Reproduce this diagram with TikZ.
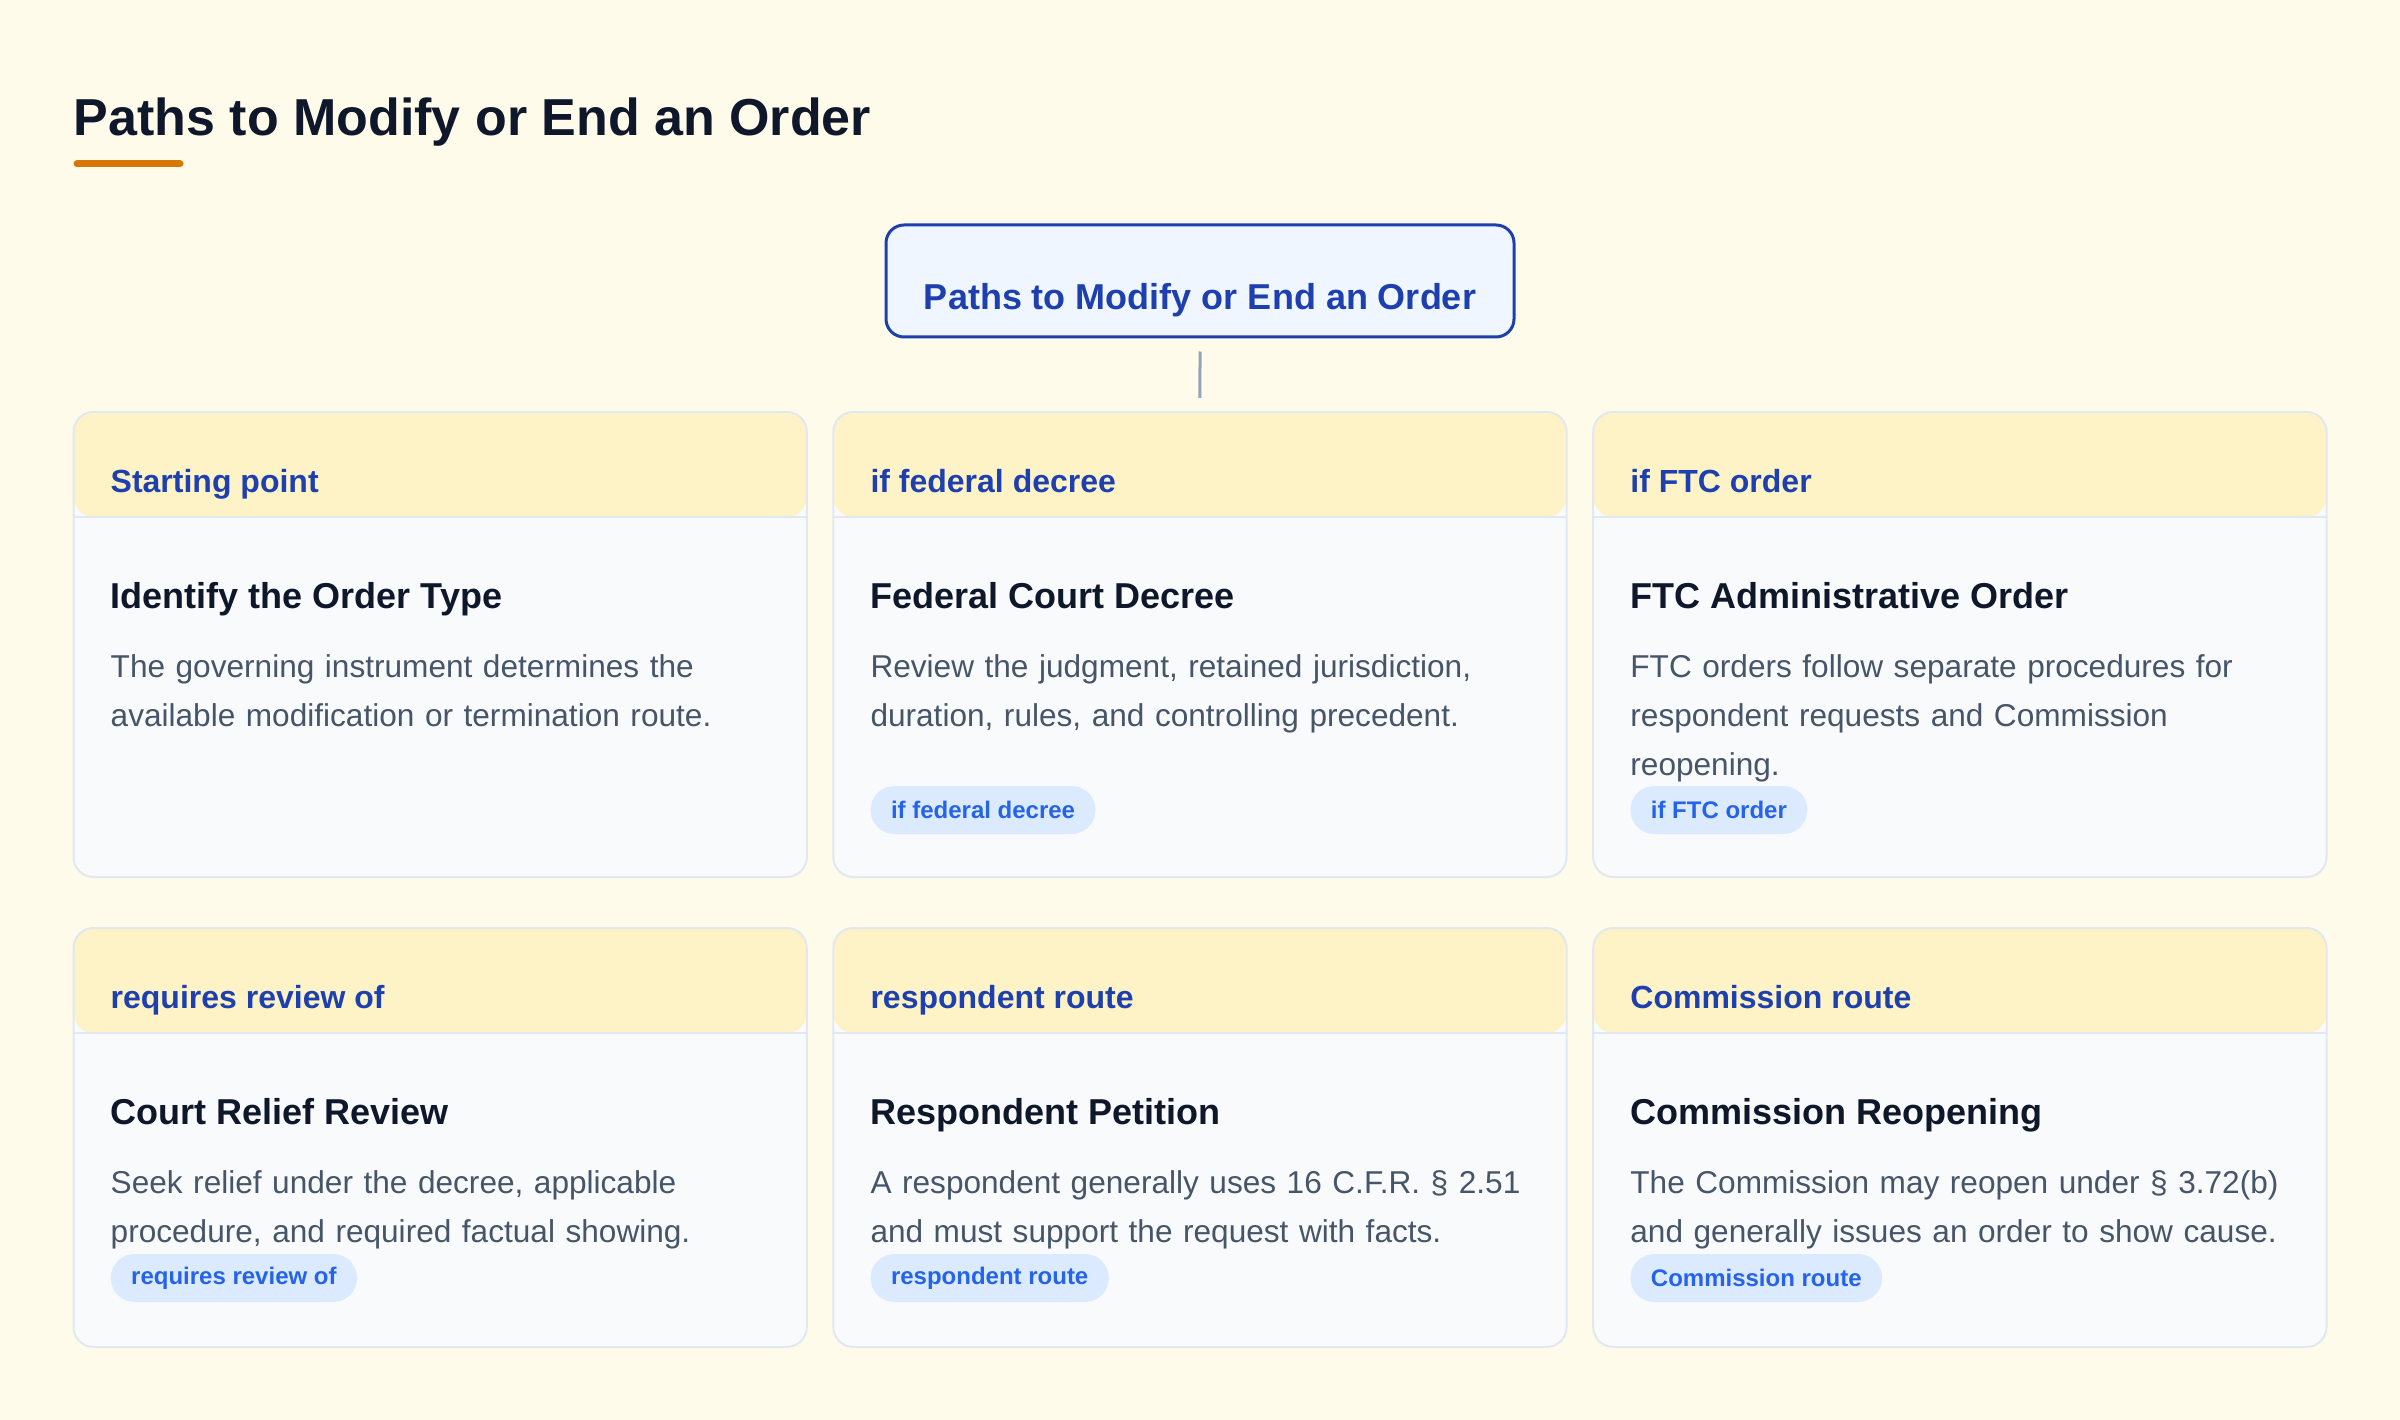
\documentclass[tikz,border=0pt]{standalone}
\usepackage{fontspec}
\setmainfont{Liberation Sans}
\definecolor{bgc}{HTML}{FFFBEB}
\definecolor{hdrfill}{HTML}{FEF3C7}
\definecolor{cardfill}{HTML}{F8FAFC}
\definecolor{cardline}{HTML}{E2E8F0}
\definecolor{blueD}{HTML}{1E40AF}
\definecolor{rootfill}{HTML}{EFF6FF}
\definecolor{pillfill}{HTML}{DBEAFE}
\definecolor{pilltxt}{HTML}{2563EB}
\definecolor{ink}{HTML}{0F172A}
\definecolor{bodyc}{HTML}{475569}
\definecolor{accent}{HTML}{D97706}
\definecolor{connc}{HTML}{94A3B8}
\begin{document}
\begin{tikzpicture}[x=1pt,y=-1pt,
  card/.style={rectangle, inner sep=0pt, outer sep=0pt, minimum width=733.3pt,
    fill=cardfill, draw=cardline, line width=2pt, rounded corners=20pt,
    path picture={\fill[hdrfill] (path picture bounding box.north west) rectangle ([yshift=-105pt]path picture bounding box.north east);
      \draw[cardline, line width=2pt] ([yshift=-105pt]path picture bounding box.north west) -- ([yshift=-105pt]path picture bounding box.north east);}},
  hdr/.style={inner sep=0pt, anchor=base west, text=blueD, font=\fontsize{32}{38}\selectfont\bfseries},
  ttl/.style={inner sep=0pt, anchor=base west, text=ink, font=\fontsize{36}{43}\selectfont\bfseries},
  bodytxt/.style={inner sep=0pt, anchor=base west, text=bodyc, text width=690pt, align=left,
    font=\fontsize{31.6}{49}\selectfont},
  pill/.style={inner xsep=20.5pt, inner ysep=0pt, minimum height=48pt, anchor=west,
    fill=pillfill, rounded corners=24pt, text=pilltxt, font=\fontsize{24}{29}\selectfont\bfseries},
  conn/.style={draw=connc, line width=3pt}
]
\useasboundingbox (0,0) rectangle (2400,1420);
\fill[bgc] (0,0) rectangle (2400,1420);

% page title
\node[inner sep=0pt, anchor=base west, text=ink, font=\fontsize{52}{62}\selectfont\bfseries] (title) at (73.5,136) {Paths to Modify or End an Order};
\draw[accent, line width=7pt, line cap=round] (77,164) -- (180,164);

% root
\node[draw=blueD, line width=3pt, fill=rootfill, rounded corners=18pt, minimum width=628pt,
  inner ysep=0pt, text height=85pt, text depth=27pt, anchor=base, text=blueD,
  font=\fontsize{36}{43}\selectfont\bfseries] (root) at (1200,310) {Paths to Modify or End an Order};

% row 1 cards
\node[card, minimum height=465pt, anchor=north west] (c1) at (73.5,412) {};
\node[card, minimum height=465pt, anchor=north west] (c2) at (833.3,412) {};
\node[card, minimum height=465pt, anchor=north west] (c3) at (1593.2,412) {};
% row 2 cards
\node[card, minimum height=419pt, anchor=north west] (c4) at (73.5,928) {};
\node[card, minimum height=419pt, anchor=north west] (c5) at (833.3,928) {};
\node[card, minimum height=419pt, anchor=north west] (c6) at (1593.2,928) {};

\draw[conn] ([yshift=-13pt]root.south) -- ([yshift=14pt]c2.north);

% card 1
\node[hdr] (c1h) at ([xshift=37pt,yshift=-80pt]c1.north west) {Starting point};
\node[ttl] (c1t) at ([xshift=37pt,yshift=-196pt]c1.north west) {Identify the Order Type};
\node[bodytxt] (c1b) at ([xshift=37pt,yshift=-265pt]c1.north west) {The governing instrument determines the\\available modification or termination route.};

% card 2
\node[hdr] (c2h) at ([xshift=37pt,yshift=-80pt]c2.north west) {if federal decree};
\node[ttl] (c2t) at ([xshift=37pt,yshift=-196pt]c2.north west) {Federal Court Decree};
\node[bodytxt] (c2b) at ([xshift=37pt,yshift=-265pt]c2.north west) {Review the judgment, retained jurisdiction,\\duration, rules, and controlling precedent.};
\node[pill] (c2p) at ([xshift=37pt,yshift=-398pt]c2.north west) {if federal decree};

% card 3
\node[hdr] (c3h) at ([xshift=37pt,yshift=-80pt]c3.north west) {if FTC order};
\node[ttl] (c3t) at ([xshift=37pt,yshift=-196pt]c3.north west) {FTC Administrative Order};
\node[bodytxt] (c3b) at ([xshift=37pt,yshift=-265pt]c3.north west) {FTC orders follow separate procedures for\\respondent requests and Commission\\reopening.};
\node[pill] (c3p) at ([xshift=37pt,yshift=-398pt]c3.north west) {if FTC order};

% card 4
\node[hdr] (c4h) at ([xshift=37pt,yshift=-80pt]c4.north west) {requires review of};
\node[ttl] (c4t) at ([xshift=37pt,yshift=-196pt]c4.north west) {Court Relief Review};
\node[bodytxt] (c4b) at ([xshift=37pt,yshift=-265pt]c4.north west) {Seek relief under the decree, applicable\\procedure, and required factual showing.};
\node[pill] (c4p) at ([xshift=37pt,yshift=-350pt]c4.north west) {requires review of};

% card 5
\node[hdr] (c5h) at ([xshift=37pt,yshift=-80pt]c5.north west) {respondent route};
\node[ttl] (c5t) at ([xshift=37pt,yshift=-196pt]c5.north west) {Respondent Petition};
\node[bodytxt] (c5b) at ([xshift=37pt,yshift=-265pt]c5.north west) {A respondent generally uses 16 C.F.R. § 2.51\\and must support the request with facts.};
\node[pill] (c5p) at ([xshift=37pt,yshift=-350pt]c5.north west) {respondent route};

% card 6
\node[hdr] (c6h) at ([xshift=37pt,yshift=-80pt]c6.north west) {Commission route};
\node[ttl] (c6t) at ([xshift=37pt,yshift=-196pt]c6.north west) {Commission Reopening};
\node[bodytxt] (c6b) at ([xshift=37pt,yshift=-265pt]c6.north west) {The Commission may reopen under § 3.72(b)\\and generally issues an order to show cause.};
\node[pill] (c6p) at ([xshift=37pt,yshift=-350pt]c6.north west) {Commission route};
\end{tikzpicture}
\end{document}
